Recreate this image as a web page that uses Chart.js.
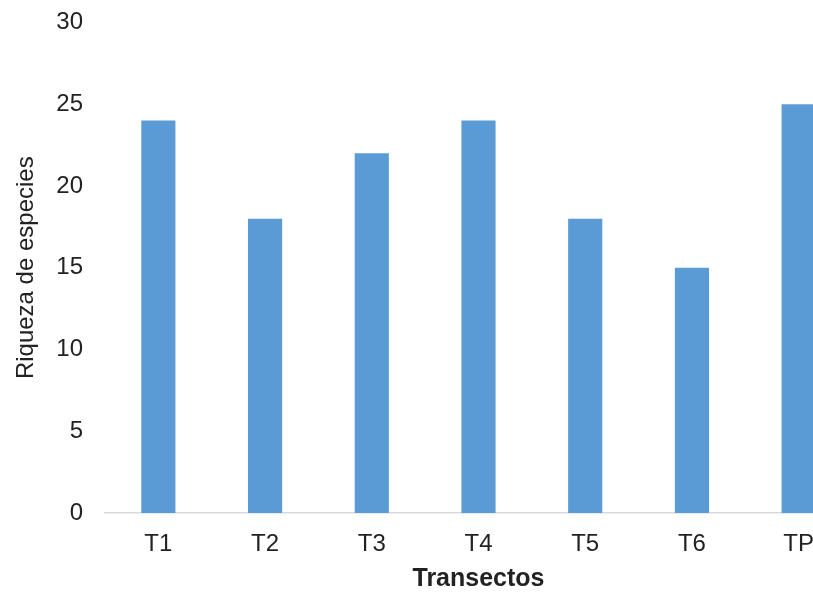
<!DOCTYPE html>
<html>
<head>
<meta charset="utf-8">
<script src="https://cdn.jsdelivr.net/npm/chart.js@4/dist/chart.umd.min.js"></script>
<style>
  html, body { margin: 0; padding: 0; background: #fff; overflow: hidden; }
  body { width: 813px; height: 593px; }
  #wrap { width: 880px; height: 607px; margin-top: -14px; position: relative; }
</style>
</head>
<body>
<div id="wrap"><canvas id="chart"></canvas></div>
<script>
// Riqueza de especies por transecto
const transectos = ['T1', 'T2', 'T3', 'T4', 'T5', 'T6', 'TP'];
const riqueza = [24, 18, 22, 24, 18, 15, 25];
const yTicks = [0, 5, 10, 15, 20, 25, 30];

const textColor = '#222222';
const fontFamily = 'Liberation Sans, Arial, sans-serif';

new Chart(document.getElementById('chart'), {
  type: 'bar',
  data: {
    labels: transectos,
    datasets: [{
      data: riqueza,
      backgroundColor: '#5B9BD5',
      borderWidth: 0,
      barPercentage: 0.32,
      categoryPercentage: 1
    }]
  },
  options: {
    responsive: true,
    maintainAspectRatio: false,
    animation: false,
    layout: { padding: { top: 0, right: 28, bottom: 0, left: 8 } },
    plugins: {
      legend: { display: false },
      tooltip: { enabled: false }
    },
    scales: {
      x: {
        afterFit: (scale) => { scale.height = 80; },
        grid: { display: false, drawTicks: false },
        border: { display: true, color: '#D9D9D9', width: 1.5 },
        ticks: {
          color: textColor,
          font: { family: fontFamily, size: 24 },
          padding: 17,
          maxRotation: 0
        },
        title: {
          display: true,
          text: 'Transectos',
          color: textColor,
          font: { family: fontFamily, size: 25, weight: 'bold' },
          padding: { top: 0, bottom: -1 }
        }
      },
      y: {
        min: yTicks[0],
        max: yTicks[yTicks.length - 1],
        afterBuildTicks: (scale) => { scale.ticks = yTicks.map(v => ({ value: v })); },
        afterFit: (scale) => { scale.width = 97; },
        grid: { display: false, drawTicks: false },
        border: { display: false },
        ticks: {
          color: textColor,
          font: { family: fontFamily, size: 24 },
          padding: 22
        },
        title: {
          display: true,
          text: 'Riqueza de especies',
          color: textColor,
          font: { family: fontFamily, size: 24 },
          padding: { top: 4, bottom: 0 }
        }
      }
    }
  }
});
</script>
</body>
</html>
